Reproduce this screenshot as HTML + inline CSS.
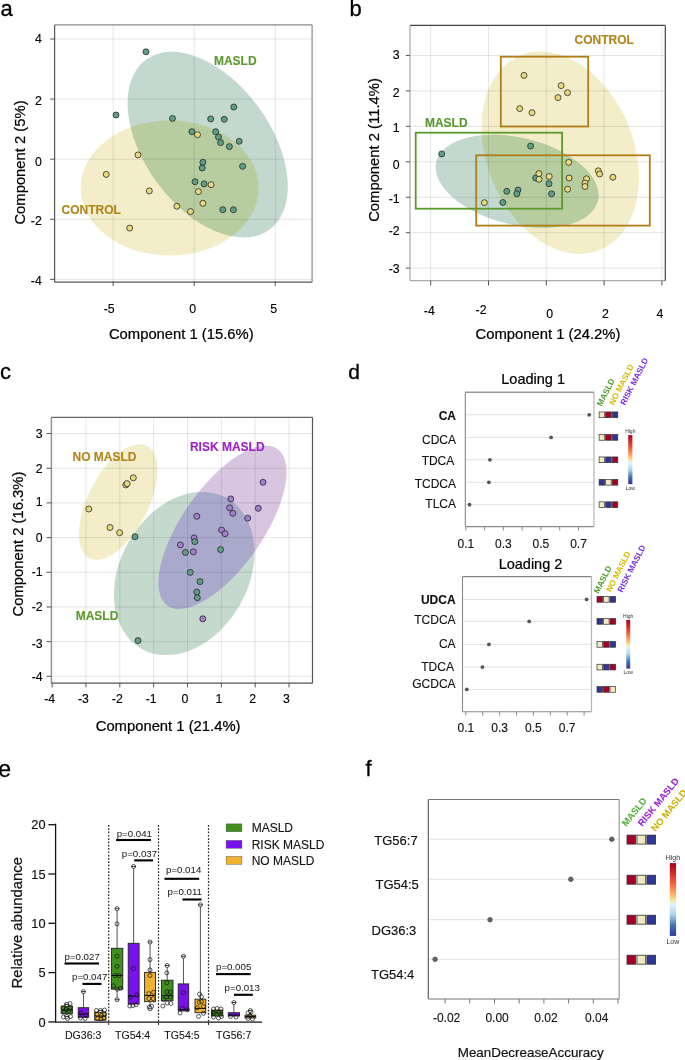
<!DOCTYPE html>
<html><head><meta charset="utf-8"><style>
html,body{margin:0;padding:0;background:#fff;width:685px;height:1060px;overflow:hidden}
svg{display:block;font-family:"Liberation Sans", sans-serif}
</style></head><body>
<svg width="685" height="1060" viewBox="0 0 685 1060">
<rect x="0" y="0" width="685" height="1060" fill="#fff"/>
<text x="0.50" y="16.00" font-size="22" text-anchor="start" font-weight="normal" fill="#000" stroke="#000" stroke-width="0.30">a</text>
<clipPath id="clip1"><ellipse cx="169.70" cy="188.00" rx="89.00" ry="67.60" transform="rotate(0 169.70 188.00)" fill="#000"/></clipPath>
<ellipse cx="169.70" cy="188.00" rx="89.00" ry="67.60" transform="rotate(0 169.70 188.00)" fill="#f3eec9"/>
<ellipse cx="207.70" cy="144.65" rx="105.10" ry="63.20" transform="rotate(54.1 207.70 144.65)" fill="#c3d9cf"/>
<g clip-path="url(#clip1)"><ellipse cx="207.70" cy="144.65" rx="105.10" ry="63.20" transform="rotate(54.1 207.70 144.65)" fill="#b7cd9f"/></g>
<line x1="113.15" y1="25.00" x2="113.15" y2="281.30" stroke="#e6e6e6" stroke-width="1" style="mix-blend-mode:multiply"/>
<line x1="194.20" y1="25.00" x2="194.20" y2="281.30" stroke="#e6e6e6" stroke-width="1" style="mix-blend-mode:multiply"/>
<line x1="275.25" y1="25.00" x2="275.25" y2="281.30" stroke="#e6e6e6" stroke-width="1" style="mix-blend-mode:multiply"/>
<line x1="54.70" y1="279.40" x2="312.20" y2="279.40" stroke="#e6e6e6" stroke-width="1" style="mix-blend-mode:multiply"/>
<line x1="54.70" y1="219.30" x2="312.20" y2="219.30" stroke="#e6e6e6" stroke-width="1" style="mix-blend-mode:multiply"/>
<line x1="54.70" y1="159.20" x2="312.20" y2="159.20" stroke="#e6e6e6" stroke-width="1" style="mix-blend-mode:multiply"/>
<line x1="54.70" y1="99.10" x2="312.20" y2="99.10" stroke="#e6e6e6" stroke-width="1" style="mix-blend-mode:multiply"/>
<line x1="54.70" y1="39.00" x2="312.20" y2="39.00" stroke="#e6e6e6" stroke-width="1" style="mix-blend-mode:multiply"/>
<line x1="54.60" y1="24.90" x2="312.10" y2="24.90" stroke="#8a8a8a" stroke-width="1.2"/>
<line x1="54.60" y1="24.90" x2="54.60" y2="282.20" stroke="#555" stroke-width="1.2"/>
<line x1="54.60" y1="282.20" x2="312.10" y2="282.20" stroke="#555" stroke-width="1.2"/>
<line x1="312.10" y1="24.90" x2="312.10" y2="282.20" stroke="#8a8a8a" stroke-width="1.2"/>
<line x1="50.20" y1="279.40" x2="54.70" y2="279.40" stroke="#555" stroke-width="1"/>
<text x="41.80" y="284.90" font-size="12.3" text-anchor="end" font-weight="normal" fill="#000" stroke="#000" stroke-width="0.13">-4</text>
<line x1="50.20" y1="219.30" x2="54.70" y2="219.30" stroke="#555" stroke-width="1"/>
<text x="41.80" y="224.70" font-size="12.3" text-anchor="end" font-weight="normal" fill="#000" stroke="#000" stroke-width="0.13">-2</text>
<line x1="50.20" y1="159.20" x2="54.70" y2="159.20" stroke="#555" stroke-width="1"/>
<text x="41.80" y="165.80" font-size="12.3" text-anchor="end" font-weight="normal" fill="#000" stroke="#000" stroke-width="0.13">0</text>
<line x1="50.20" y1="99.10" x2="54.70" y2="99.10" stroke="#555" stroke-width="1"/>
<text x="41.80" y="104.70" font-size="12.3" text-anchor="end" font-weight="normal" fill="#000" stroke="#000" stroke-width="0.13">2</text>
<line x1="50.20" y1="39.00" x2="54.70" y2="39.00" stroke="#555" stroke-width="1"/>
<text x="41.80" y="43.15" font-size="12.3" text-anchor="end" font-weight="normal" fill="#000" stroke="#000" stroke-width="0.13">4</text>
<line x1="113.15" y1="281.30" x2="113.15" y2="286.00" stroke="#555" stroke-width="1"/>
<text x="109.15" y="313.40" font-size="12.3" text-anchor="middle" font-weight="normal" fill="#000" stroke="#000" stroke-width="0.13">-5</text>
<line x1="194.20" y1="281.30" x2="194.20" y2="286.00" stroke="#555" stroke-width="1"/>
<text x="192.70" y="313.40" font-size="12.3" text-anchor="middle" font-weight="normal" fill="#000" stroke="#000" stroke-width="0.13">0</text>
<line x1="275.25" y1="281.30" x2="275.25" y2="286.00" stroke="#555" stroke-width="1"/>
<text x="273.75" y="313.40" font-size="12.3" text-anchor="middle" font-weight="normal" fill="#000" stroke="#000" stroke-width="0.13">5</text>
<text x="181.30" y="339.00" font-size="14.8" text-anchor="middle" font-weight="normal" fill="#000" stroke="#000" stroke-width="0.23">Component 1 (15.6%)</text>
<text x="25.40" y="162.50" font-size="14.8" text-anchor="middle" font-weight="normal" fill="#000" stroke="#000" stroke-width="0.23" transform="rotate(-90 25.4 162.5)">Component 2 (5%)</text>
<text x="213.90" y="65.10" font-size="12" text-anchor="start" font-weight="bold" fill="#5a9a2e" stroke="#5a9a2e" stroke-width="0.12">MASLD</text>
<text x="61.50" y="214.00" font-size="12" text-anchor="start" font-weight="bold" fill="#b0851c" stroke="#b0851c" stroke-width="0.12">CONTROL</text>
<circle cx="146.00" cy="51.80" r="3.0" fill="#5e9e84" stroke="#2a2a2a" stroke-width="0.8"/>
<circle cx="116.00" cy="115.00" r="3.0" fill="#5e9e84" stroke="#2a2a2a" stroke-width="0.8"/>
<circle cx="172.50" cy="118.40" r="3.0" fill="#5e9e84" stroke="#2a2a2a" stroke-width="0.8"/>
<circle cx="233.80" cy="107.00" r="3.0" fill="#5e9e84" stroke="#2a2a2a" stroke-width="0.8"/>
<circle cx="210.70" cy="118.90" r="3.0" fill="#5e9e84" stroke="#2a2a2a" stroke-width="0.8"/>
<circle cx="224.30" cy="119.30" r="3.0" fill="#5e9e84" stroke="#2a2a2a" stroke-width="0.8"/>
<circle cx="191.90" cy="131.70" r="3.0" fill="#5e9e84" stroke="#2a2a2a" stroke-width="0.8"/>
<circle cx="197.50" cy="134.70" r="3.0" fill="#e8d97c" stroke="#2a2a2a" stroke-width="0.8"/>
<circle cx="215.70" cy="131.70" r="3.0" fill="#5e9e84" stroke="#2a2a2a" stroke-width="0.8"/>
<circle cx="218.50" cy="137.00" r="3.0" fill="#5e9e84" stroke="#2a2a2a" stroke-width="0.8"/>
<circle cx="220.60" cy="142.60" r="3.0" fill="#5e9e84" stroke="#2a2a2a" stroke-width="0.8"/>
<circle cx="229.40" cy="146.60" r="3.0" fill="#5e9e84" stroke="#2a2a2a" stroke-width="0.8"/>
<circle cx="239.20" cy="141.30" r="3.0" fill="#5e9e84" stroke="#2a2a2a" stroke-width="0.8"/>
<circle cx="138.00" cy="154.90" r="3.0" fill="#e8d97c" stroke="#2a2a2a" stroke-width="0.8"/>
<circle cx="106.20" cy="174.40" r="3.0" fill="#e8d97c" stroke="#2a2a2a" stroke-width="0.8"/>
<circle cx="149.30" cy="190.90" r="3.0" fill="#e8d97c" stroke="#2a2a2a" stroke-width="0.8"/>
<circle cx="176.80" cy="206.30" r="3.0" fill="#e8d97c" stroke="#2a2a2a" stroke-width="0.8"/>
<circle cx="190.50" cy="211.50" r="3.0" fill="#e8d97c" stroke="#2a2a2a" stroke-width="0.8"/>
<circle cx="129.70" cy="228.10" r="3.0" fill="#e8d97c" stroke="#2a2a2a" stroke-width="0.8"/>
<circle cx="202.90" cy="162.30" r="3.0" fill="#5e9e84" stroke="#2a2a2a" stroke-width="0.8"/>
<circle cx="202.20" cy="168.00" r="3.0" fill="#5e9e84" stroke="#2a2a2a" stroke-width="0.8"/>
<circle cx="242.60" cy="166.30" r="3.0" fill="#5e9e84" stroke="#2a2a2a" stroke-width="0.8"/>
<circle cx="195.00" cy="181.70" r="3.0" fill="#5e9e84" stroke="#2a2a2a" stroke-width="0.8"/>
<circle cx="204.10" cy="183.90" r="3.0" fill="#5e9e84" stroke="#2a2a2a" stroke-width="0.8"/>
<circle cx="211.10" cy="184.70" r="3.0" fill="#e8d97c" stroke="#2a2a2a" stroke-width="0.8"/>
<circle cx="198.40" cy="191.60" r="3.0" fill="#e8d97c" stroke="#2a2a2a" stroke-width="0.8"/>
<circle cx="202.90" cy="203.30" r="3.0" fill="#e8d97c" stroke="#2a2a2a" stroke-width="0.8"/>
<circle cx="222.80" cy="209.70" r="3.0" fill="#5e9e84" stroke="#2a2a2a" stroke-width="0.8"/>
<circle cx="233.40" cy="209.70" r="3.0" fill="#5e9e84" stroke="#2a2a2a" stroke-width="0.8"/>
<text x="349.50" y="16.00" font-size="22" text-anchor="start" font-weight="normal" fill="#000" stroke="#000" stroke-width="0.30">b</text>
<clipPath id="clip2"><ellipse cx="560.30" cy="152.70" rx="105.10" ry="73.40" transform="rotate(67.9 560.30 152.70)" fill="#000"/></clipPath>
<ellipse cx="560.30" cy="152.70" rx="105.10" ry="73.40" transform="rotate(67.9 560.30 152.70)" fill="#f3eec9"/>
<ellipse cx="517.10" cy="181.30" rx="83.10" ry="43.50" transform="rotate(13.5 517.10 181.30)" fill="#c3d9cf"/>
<g clip-path="url(#clip2)"><ellipse cx="517.10" cy="181.30" rx="83.10" ry="43.50" transform="rotate(13.5 517.10 181.30)" fill="#b7cd9f"/></g>
<line x1="430.70" y1="25.00" x2="430.70" y2="280.50" stroke="#e6e6e6" stroke-width="1" style="mix-blend-mode:multiply"/>
<line x1="488.50" y1="25.00" x2="488.50" y2="280.50" stroke="#e6e6e6" stroke-width="1" style="mix-blend-mode:multiply"/>
<line x1="546.30" y1="25.00" x2="546.30" y2="280.50" stroke="#e6e6e6" stroke-width="1" style="mix-blend-mode:multiply"/>
<line x1="604.10" y1="25.00" x2="604.10" y2="280.50" stroke="#e6e6e6" stroke-width="1" style="mix-blend-mode:multiply"/>
<line x1="661.90" y1="25.00" x2="661.90" y2="280.50" stroke="#e6e6e6" stroke-width="1" style="mix-blend-mode:multiply"/>
<line x1="410.00" y1="268.15" x2="665.00" y2="268.15" stroke="#e6e6e6" stroke-width="1" style="mix-blend-mode:multiply"/>
<line x1="410.00" y1="232.70" x2="665.00" y2="232.70" stroke="#e6e6e6" stroke-width="1" style="mix-blend-mode:multiply"/>
<line x1="410.00" y1="197.25" x2="665.00" y2="197.25" stroke="#e6e6e6" stroke-width="1" style="mix-blend-mode:multiply"/>
<line x1="410.00" y1="161.80" x2="665.00" y2="161.80" stroke="#e6e6e6" stroke-width="1" style="mix-blend-mode:multiply"/>
<line x1="410.00" y1="126.35" x2="665.00" y2="126.35" stroke="#e6e6e6" stroke-width="1" style="mix-blend-mode:multiply"/>
<line x1="410.00" y1="90.90" x2="665.00" y2="90.90" stroke="#e6e6e6" stroke-width="1" style="mix-blend-mode:multiply"/>
<line x1="410.00" y1="55.45" x2="665.00" y2="55.45" stroke="#e6e6e6" stroke-width="1" style="mix-blend-mode:multiply"/>
<line x1="410.00" y1="25.40" x2="665.30" y2="25.40" stroke="#444" stroke-width="1.2"/>
<line x1="410.00" y1="25.40" x2="410.00" y2="280.70" stroke="#aaa" stroke-width="1.2"/>
<line x1="410.00" y1="280.70" x2="665.30" y2="280.70" stroke="#aaa" stroke-width="1.2"/>
<line x1="665.30" y1="25.40" x2="665.30" y2="280.70" stroke="#444" stroke-width="1.2"/>
<line x1="405.80" y1="268.15" x2="410.00" y2="268.15" stroke="#555" stroke-width="1"/>
<text x="399.70" y="272.75" font-size="12.3" text-anchor="end" font-weight="normal" fill="#000" stroke="#000" stroke-width="0.13">-3</text>
<line x1="405.80" y1="232.70" x2="410.00" y2="232.70" stroke="#555" stroke-width="1"/>
<text x="399.70" y="234.70" font-size="12.3" text-anchor="end" font-weight="normal" fill="#000" stroke="#000" stroke-width="0.13">-2</text>
<line x1="405.80" y1="197.25" x2="410.00" y2="197.25" stroke="#555" stroke-width="1"/>
<text x="399.70" y="202.55" font-size="12.3" text-anchor="end" font-weight="normal" fill="#000" stroke="#000" stroke-width="0.13">-1</text>
<line x1="405.80" y1="161.80" x2="410.00" y2="161.80" stroke="#555" stroke-width="1"/>
<text x="399.70" y="169.00" font-size="12.3" text-anchor="end" font-weight="normal" fill="#000" stroke="#000" stroke-width="0.13">0</text>
<line x1="405.80" y1="126.35" x2="410.00" y2="126.35" stroke="#555" stroke-width="1"/>
<text x="399.70" y="132.15" font-size="12.3" text-anchor="end" font-weight="normal" fill="#000" stroke="#000" stroke-width="0.13">1</text>
<line x1="405.80" y1="90.90" x2="410.00" y2="90.90" stroke="#555" stroke-width="1"/>
<text x="399.70" y="96.70" font-size="12.3" text-anchor="end" font-weight="normal" fill="#000" stroke="#000" stroke-width="0.13">2</text>
<line x1="405.80" y1="55.45" x2="410.00" y2="55.45" stroke="#555" stroke-width="1"/>
<text x="399.70" y="59.30" font-size="12.3" text-anchor="end" font-weight="normal" fill="#000" stroke="#000" stroke-width="0.13">3</text>
<line x1="430.70" y1="280.50" x2="430.70" y2="285.50" stroke="#555" stroke-width="1"/>
<line x1="488.50" y1="280.50" x2="488.50" y2="285.50" stroke="#555" stroke-width="1"/>
<line x1="546.30" y1="280.50" x2="546.30" y2="285.50" stroke="#555" stroke-width="1"/>
<line x1="604.10" y1="280.50" x2="604.10" y2="285.50" stroke="#555" stroke-width="1"/>
<line x1="661.90" y1="280.50" x2="661.90" y2="285.50" stroke="#555" stroke-width="1"/>
<text x="429.30" y="314.50" font-size="12.3" text-anchor="middle" font-weight="normal" fill="#000" stroke="#000" stroke-width="0.13">-4</text>
<text x="481.00" y="314.30" font-size="12.3" text-anchor="middle" font-weight="normal" fill="#000" stroke="#000" stroke-width="0.13">-2</text>
<text x="549.60" y="317.80" font-size="12.3" text-anchor="middle" font-weight="normal" fill="#000" stroke="#000" stroke-width="0.13">0</text>
<text x="605.30" y="317.80" font-size="12.3" text-anchor="middle" font-weight="normal" fill="#000" stroke="#000" stroke-width="0.13">2</text>
<text x="660.00" y="317.80" font-size="12.3" text-anchor="middle" font-weight="normal" fill="#000" stroke="#000" stroke-width="0.13">4</text>
<text x="548.00" y="338.70" font-size="14.8" text-anchor="middle" font-weight="normal" fill="#000" stroke="#000" stroke-width="0.23">Component 1 (24.2%)</text>
<text x="379.00" y="150.00" font-size="14.8" text-anchor="middle" font-weight="normal" fill="#000" stroke="#000" stroke-width="0.23" transform="rotate(-90 379 150)">Component 2 (11.4%)</text>
<rect x="415.70" y="132.70" width="146.40" height="76.00" fill="none" stroke="#5a9a2e" stroke-width="1.8"/>
<rect x="476.20" y="155.30" width="173.60" height="70.30" fill="none" stroke="#b07d1a" stroke-width="1.8"/>
<rect x="500.80" y="56.70" width="87.40" height="69.80" fill="none" stroke="#b07d1a" stroke-width="1.8"/>
<text x="424.90" y="127.10" font-size="12" text-anchor="start" font-weight="bold" fill="#5a9a2e" stroke="#5a9a2e" stroke-width="0.12">MASLD</text>
<text x="574.60" y="44.40" font-size="12" text-anchor="start" font-weight="bold" fill="#b0851c" stroke="#b0851c" stroke-width="0.12">CONTROL</text>
<circle cx="441.70" cy="153.90" r="3.0" fill="#5e9e84" stroke="#2a2a2a" stroke-width="0.8"/>
<circle cx="530.60" cy="146.10" r="3.0" fill="#5e9e84" stroke="#2a2a2a" stroke-width="0.8"/>
<circle cx="506.80" cy="191.30" r="3.0" fill="#5e9e84" stroke="#2a2a2a" stroke-width="0.8"/>
<circle cx="518.00" cy="190.00" r="3.0" fill="#5e9e84" stroke="#2a2a2a" stroke-width="0.8"/>
<circle cx="516.80" cy="193.80" r="3.0" fill="#5e9e84" stroke="#2a2a2a" stroke-width="0.8"/>
<circle cx="484.40" cy="202.70" r="3.0" fill="#e8d97c" stroke="#2a2a2a" stroke-width="0.8"/>
<circle cx="502.80" cy="202.50" r="3.0" fill="#5e9e84" stroke="#2a2a2a" stroke-width="0.8"/>
<circle cx="535.70" cy="178.00" r="3.0" fill="#5e9e84" stroke="#2a2a2a" stroke-width="0.8"/>
<circle cx="538.90" cy="173.60" r="3.0" fill="#e8d97c" stroke="#2a2a2a" stroke-width="0.8"/>
<circle cx="539.10" cy="179.30" r="3.0" fill="#e8d97c" stroke="#2a2a2a" stroke-width="0.8"/>
<circle cx="549.20" cy="176.50" r="3.0" fill="#e8d97c" stroke="#2a2a2a" stroke-width="0.8"/>
<circle cx="549.00" cy="183.70" r="3.0" fill="#5e9e84" stroke="#2a2a2a" stroke-width="0.8"/>
<circle cx="551.60" cy="193.80" r="3.0" fill="#5e9e84" stroke="#2a2a2a" stroke-width="0.8"/>
<circle cx="568.70" cy="162.40" r="3.0" fill="#e8d97c" stroke="#2a2a2a" stroke-width="0.8"/>
<circle cx="569.10" cy="178.00" r="3.0" fill="#e8d97c" stroke="#2a2a2a" stroke-width="0.8"/>
<circle cx="567.60" cy="189.20" r="3.0" fill="#e8d97c" stroke="#2a2a2a" stroke-width="0.8"/>
<circle cx="586.50" cy="178.80" r="3.0" fill="#e8d97c" stroke="#2a2a2a" stroke-width="0.8"/>
<circle cx="585.00" cy="183.10" r="3.0" fill="#e8d97c" stroke="#2a2a2a" stroke-width="0.8"/>
<circle cx="585.00" cy="186.50" r="3.0" fill="#e8d97c" stroke="#2a2a2a" stroke-width="0.8"/>
<circle cx="598.30" cy="170.80" r="3.0" fill="#e8d97c" stroke="#2a2a2a" stroke-width="0.8"/>
<circle cx="599.60" cy="174.00" r="3.0" fill="#e8d97c" stroke="#2a2a2a" stroke-width="0.8"/>
<circle cx="612.90" cy="177.20" r="3.0" fill="#e8d97c" stroke="#2a2a2a" stroke-width="0.8"/>
<circle cx="524.00" cy="75.40" r="3.0" fill="#e8d97c" stroke="#2a2a2a" stroke-width="0.8"/>
<circle cx="561.10" cy="85.60" r="3.0" fill="#e8d97c" stroke="#2a2a2a" stroke-width="0.8"/>
<circle cx="567.50" cy="92.70" r="3.0" fill="#e8d97c" stroke="#2a2a2a" stroke-width="0.8"/>
<circle cx="558.00" cy="97.60" r="3.0" fill="#e8d97c" stroke="#2a2a2a" stroke-width="0.8"/>
<circle cx="519.70" cy="108.60" r="3.0" fill="#e8d97c" stroke="#2a2a2a" stroke-width="0.8"/>
<circle cx="532.00" cy="112.70" r="3.0" fill="#e8d97c" stroke="#2a2a2a" stroke-width="0.8"/>
<text x="0.00" y="378.50" font-size="22" text-anchor="start" font-weight="normal" fill="#000" stroke="#000" stroke-width="0.30">c</text>
<ellipse cx="118.20" cy="502.00" rx="63.10" ry="30.10" transform="rotate(-62.9 118.20 502.00)" fill="#f3eec9"/>
<clipPath id="clip3"><ellipse cx="184.20" cy="573.50" rx="86.60" ry="64.00" transform="rotate(-60.2 184.20 573.50)" fill="#000"/></clipPath>
<ellipse cx="184.20" cy="573.50" rx="86.60" ry="64.00" transform="rotate(-60.2 184.20 573.50)" fill="#c5dacd"/>
<ellipse cx="222.50" cy="527.30" rx="95.70" ry="40.30" transform="rotate(-55 222.50 527.30)" fill="#d8c6e0"/>
<g clip-path="url(#clip3)"><ellipse cx="222.50" cy="527.30" rx="95.70" ry="40.30" transform="rotate(-55 222.50 527.30)" fill="#a9a9cc"/></g>
<line x1="52.14" y1="417.00" x2="52.14" y2="682.80" stroke="#e6e6e6" stroke-width="1" style="mix-blend-mode:multiply"/>
<line x1="85.98" y1="417.00" x2="85.98" y2="682.80" stroke="#e6e6e6" stroke-width="1" style="mix-blend-mode:multiply"/>
<line x1="119.82" y1="417.00" x2="119.82" y2="682.80" stroke="#e6e6e6" stroke-width="1" style="mix-blend-mode:multiply"/>
<line x1="153.66" y1="417.00" x2="153.66" y2="682.80" stroke="#e6e6e6" stroke-width="1" style="mix-blend-mode:multiply"/>
<line x1="187.50" y1="417.00" x2="187.50" y2="682.80" stroke="#e6e6e6" stroke-width="1" style="mix-blend-mode:multiply"/>
<line x1="221.34" y1="417.00" x2="221.34" y2="682.80" stroke="#e6e6e6" stroke-width="1" style="mix-blend-mode:multiply"/>
<line x1="255.18" y1="417.00" x2="255.18" y2="682.80" stroke="#e6e6e6" stroke-width="1" style="mix-blend-mode:multiply"/>
<line x1="289.02" y1="417.00" x2="289.02" y2="682.80" stroke="#e6e6e6" stroke-width="1" style="mix-blend-mode:multiply"/>
<line x1="51.40" y1="676.32" x2="312.50" y2="676.32" stroke="#e6e6e6" stroke-width="1" style="mix-blend-mode:multiply"/>
<line x1="51.40" y1="641.64" x2="312.50" y2="641.64" stroke="#e6e6e6" stroke-width="1" style="mix-blend-mode:multiply"/>
<line x1="51.40" y1="606.96" x2="312.50" y2="606.96" stroke="#e6e6e6" stroke-width="1" style="mix-blend-mode:multiply"/>
<line x1="51.40" y1="572.28" x2="312.50" y2="572.28" stroke="#e6e6e6" stroke-width="1" style="mix-blend-mode:multiply"/>
<line x1="51.40" y1="537.60" x2="312.50" y2="537.60" stroke="#e6e6e6" stroke-width="1" style="mix-blend-mode:multiply"/>
<line x1="51.40" y1="502.92" x2="312.50" y2="502.92" stroke="#e6e6e6" stroke-width="1" style="mix-blend-mode:multiply"/>
<line x1="51.40" y1="468.24" x2="312.50" y2="468.24" stroke="#e6e6e6" stroke-width="1" style="mix-blend-mode:multiply"/>
<line x1="51.40" y1="433.56" x2="312.50" y2="433.56" stroke="#e6e6e6" stroke-width="1" style="mix-blend-mode:multiply"/>
<line x1="51.30" y1="417.40" x2="312.50" y2="417.40" stroke="#666" stroke-width="1.2"/>
<line x1="51.30" y1="417.40" x2="51.30" y2="683.20" stroke="#888" stroke-width="1.2"/>
<line x1="51.30" y1="683.20" x2="312.50" y2="683.20" stroke="#555" stroke-width="1.2"/>
<line x1="312.50" y1="417.40" x2="312.50" y2="683.20" stroke="#555" stroke-width="1.2"/>
<line x1="46.50" y1="676.32" x2="51.40" y2="676.32" stroke="#555" stroke-width="1"/>
<text x="42.60" y="680.92" font-size="12.3" text-anchor="end" font-weight="normal" fill="#000" stroke="#000" stroke-width="0.13">-4</text>
<line x1="46.50" y1="641.64" x2="51.40" y2="641.64" stroke="#555" stroke-width="1"/>
<text x="42.60" y="647.54" font-size="12.3" text-anchor="end" font-weight="normal" fill="#000" stroke="#000" stroke-width="0.13">-3</text>
<line x1="46.50" y1="606.96" x2="51.40" y2="606.96" stroke="#555" stroke-width="1"/>
<text x="42.60" y="610.76" font-size="12.3" text-anchor="end" font-weight="normal" fill="#000" stroke="#000" stroke-width="0.13">-2</text>
<line x1="46.50" y1="572.28" x2="51.40" y2="572.28" stroke="#555" stroke-width="1"/>
<text x="42.60" y="576.08" font-size="12.3" text-anchor="end" font-weight="normal" fill="#000" stroke="#000" stroke-width="0.13">-1</text>
<line x1="46.50" y1="537.60" x2="51.40" y2="537.60" stroke="#555" stroke-width="1"/>
<text x="42.60" y="542.20" font-size="12.3" text-anchor="end" font-weight="normal" fill="#000" stroke="#000" stroke-width="0.13">0</text>
<line x1="46.50" y1="502.92" x2="51.40" y2="502.92" stroke="#555" stroke-width="1"/>
<text x="42.60" y="506.02" font-size="12.3" text-anchor="end" font-weight="normal" fill="#000" stroke="#000" stroke-width="0.13">1</text>
<line x1="46.50" y1="468.24" x2="51.40" y2="468.24" stroke="#555" stroke-width="1"/>
<text x="42.60" y="472.84" font-size="12.3" text-anchor="end" font-weight="normal" fill="#000" stroke="#000" stroke-width="0.13">2</text>
<line x1="46.50" y1="433.56" x2="51.40" y2="433.56" stroke="#555" stroke-width="1"/>
<text x="42.60" y="438.16" font-size="12.3" text-anchor="end" font-weight="normal" fill="#000" stroke="#000" stroke-width="0.13">3</text>
<line x1="52.14" y1="682.80" x2="52.14" y2="687.40" stroke="#555" stroke-width="1"/>
<text x="49.64" y="703.40" font-size="12.3" text-anchor="middle" font-weight="normal" fill="#000" stroke="#000" stroke-width="0.13">-4</text>
<line x1="85.98" y1="682.80" x2="85.98" y2="687.40" stroke="#555" stroke-width="1"/>
<text x="83.48" y="703.40" font-size="12.3" text-anchor="middle" font-weight="normal" fill="#000" stroke="#000" stroke-width="0.13">-3</text>
<line x1="119.82" y1="682.80" x2="119.82" y2="687.40" stroke="#555" stroke-width="1"/>
<text x="117.32" y="703.40" font-size="12.3" text-anchor="middle" font-weight="normal" fill="#000" stroke="#000" stroke-width="0.13">-2</text>
<line x1="153.66" y1="682.80" x2="153.66" y2="687.40" stroke="#555" stroke-width="1"/>
<text x="151.16" y="703.40" font-size="12.3" text-anchor="middle" font-weight="normal" fill="#000" stroke="#000" stroke-width="0.13">-1</text>
<line x1="187.50" y1="682.80" x2="187.50" y2="687.40" stroke="#555" stroke-width="1"/>
<text x="185.00" y="703.40" font-size="12.3" text-anchor="middle" font-weight="normal" fill="#000" stroke="#000" stroke-width="0.13">0</text>
<line x1="221.34" y1="682.80" x2="221.34" y2="687.40" stroke="#555" stroke-width="1"/>
<text x="218.84" y="703.40" font-size="12.3" text-anchor="middle" font-weight="normal" fill="#000" stroke="#000" stroke-width="0.13">1</text>
<line x1="255.18" y1="682.80" x2="255.18" y2="687.40" stroke="#555" stroke-width="1"/>
<text x="252.68" y="703.40" font-size="12.3" text-anchor="middle" font-weight="normal" fill="#000" stroke="#000" stroke-width="0.13">2</text>
<line x1="289.02" y1="682.80" x2="289.02" y2="687.40" stroke="#555" stroke-width="1"/>
<text x="286.52" y="703.40" font-size="12.3" text-anchor="middle" font-weight="normal" fill="#000" stroke="#000" stroke-width="0.13">3</text>
<text x="168.10" y="731.00" font-size="14.8" text-anchor="middle" font-weight="normal" fill="#000" stroke="#000" stroke-width="0.23">Component 1 (21.4%)</text>
<text x="23.00" y="544.00" font-size="14.8" text-anchor="middle" font-weight="normal" fill="#000" stroke="#000" stroke-width="0.23" transform="rotate(-90 23 544)">Component 2 (16.3%)</text>
<text x="72.50" y="461.00" font-size="12" text-anchor="start" font-weight="bold" fill="#b0851c" stroke="#b0851c" stroke-width="0.12">NO MASLD</text>
<text x="189.90" y="450.60" font-size="12" text-anchor="start" font-weight="bold" fill="#9a22c8" stroke="#9a22c8" stroke-width="0.12">RISK MASLD</text>
<text x="75.70" y="619.90" font-size="12" text-anchor="start" font-weight="bold" fill="#5a9a2e" stroke="#5a9a2e" stroke-width="0.12">MASLD</text>
<circle cx="88.80" cy="509.00" r="3.0" fill="#e8d97c" stroke="#2a2a2a" stroke-width="0.8"/>
<circle cx="125.80" cy="484.90" r="3.0" fill="#e8d97c" stroke="#2a2a2a" stroke-width="0.8"/>
<circle cx="127.10" cy="483.60" r="3.0" fill="#e8d97c" stroke="#2a2a2a" stroke-width="0.8"/>
<circle cx="133.30" cy="477.80" r="3.0" fill="#e8d97c" stroke="#2a2a2a" stroke-width="0.8"/>
<circle cx="110.00" cy="527.50" r="3.0" fill="#e8d97c" stroke="#2a2a2a" stroke-width="0.8"/>
<circle cx="119.60" cy="532.70" r="3.0" fill="#e8d97c" stroke="#2a2a2a" stroke-width="0.8"/>
<circle cx="135.00" cy="536.70" r="3.0" fill="#5e9e84" stroke="#2a2a2a" stroke-width="0.8"/>
<circle cx="138.00" cy="640.60" r="3.0" fill="#5e9e84" stroke="#2a2a2a" stroke-width="0.8"/>
<circle cx="263.00" cy="482.30" r="3.0" fill="#a27fd0" stroke="#2a2a2a" stroke-width="0.8"/>
<circle cx="230.80" cy="498.90" r="3.0" fill="#a27fd0" stroke="#2a2a2a" stroke-width="0.8"/>
<circle cx="229.60" cy="507.80" r="3.0" fill="#a27fd0" stroke="#2a2a2a" stroke-width="0.8"/>
<circle cx="232.80" cy="513.30" r="3.0" fill="#a27fd0" stroke="#2a2a2a" stroke-width="0.8"/>
<circle cx="258.30" cy="508.30" r="3.0" fill="#a27fd0" stroke="#2a2a2a" stroke-width="0.8"/>
<circle cx="196.80" cy="516.30" r="3.0" fill="#a27fd0" stroke="#2a2a2a" stroke-width="0.8"/>
<circle cx="247.70" cy="518.20" r="3.0" fill="#a27fd0" stroke="#2a2a2a" stroke-width="0.8"/>
<circle cx="221.60" cy="530.00" r="3.0" fill="#a27fd0" stroke="#2a2a2a" stroke-width="0.8"/>
<circle cx="225.10" cy="533.70" r="3.0" fill="#a27fd0" stroke="#2a2a2a" stroke-width="0.8"/>
<circle cx="194.10" cy="537.90" r="3.0" fill="#a27fd0" stroke="#2a2a2a" stroke-width="0.8"/>
<circle cx="194.80" cy="541.60" r="3.0" fill="#5e9e84" stroke="#2a2a2a" stroke-width="0.8"/>
<circle cx="180.40" cy="544.90" r="3.0" fill="#a27fd0" stroke="#2a2a2a" stroke-width="0.8"/>
<circle cx="185.40" cy="552.50" r="3.0" fill="#5e9e84" stroke="#2a2a2a" stroke-width="0.8"/>
<circle cx="193.30" cy="551.80" r="3.0" fill="#a27fd0" stroke="#2a2a2a" stroke-width="0.8"/>
<circle cx="220.60" cy="549.60" r="3.0" fill="#5e9e84" stroke="#2a2a2a" stroke-width="0.8"/>
<circle cx="190.30" cy="572.40" r="3.0" fill="#5e9e84" stroke="#2a2a2a" stroke-width="0.8"/>
<circle cx="200.00" cy="581.60" r="3.0" fill="#5e9e84" stroke="#2a2a2a" stroke-width="0.8"/>
<circle cx="196.80" cy="592.00" r="3.0" fill="#5e9e84" stroke="#2a2a2a" stroke-width="0.8"/>
<circle cx="197.30" cy="597.70" r="3.0" fill="#5e9e84" stroke="#2a2a2a" stroke-width="0.8"/>
<circle cx="202.80" cy="618.80" r="3.0" fill="#a27fd0" stroke="#2a2a2a" stroke-width="0.8"/>
<text x="348.20" y="378.50" font-size="21" text-anchor="start" font-weight="normal" fill="#000" stroke="#000" stroke-width="0.30">d</text>
<defs><linearGradient id="rdylbu" x1="0" y1="0" x2="0" y2="1"><stop offset="0" stop-color="#a50026"/><stop offset="0.15" stop-color="#d73027"/><stop offset="0.3" stop-color="#f46d43"/><stop offset="0.42" stop-color="#fdae61"/><stop offset="0.5" stop-color="#fee090"/><stop offset="0.56" stop-color="#e0f3f8"/><stop offset="0.7" stop-color="#abd9e9"/><stop offset="0.85" stop-color="#4575b4"/><stop offset="1" stop-color="#313695"/></linearGradient></defs>
<text x="533.15" y="384.30" font-size="14.5" text-anchor="middle" font-weight="normal" fill="#000" stroke="#000" stroke-width="0.22">Loading 1</text>
<line x1="465.30" y1="414.80" x2="594.00" y2="414.80" stroke="#e2e2e2" stroke-width="1"/>
<line x1="465.30" y1="437.40" x2="594.00" y2="437.40" stroke="#e2e2e2" stroke-width="1"/>
<line x1="465.30" y1="459.80" x2="594.00" y2="459.80" stroke="#e2e2e2" stroke-width="1"/>
<line x1="465.30" y1="482.30" x2="594.00" y2="482.30" stroke="#e2e2e2" stroke-width="1"/>
<line x1="465.30" y1="504.70" x2="594.00" y2="504.70" stroke="#e2e2e2" stroke-width="1"/>
<line x1="465.30" y1="392.20" x2="594.00" y2="392.20" stroke="#666" stroke-width="1"/>
<line x1="465.30" y1="392.20" x2="465.30" y2="526.60" stroke="#8a8a8a" stroke-width="1.1"/>
<line x1="465.30" y1="526.60" x2="594.00" y2="526.60" stroke="#8a8a8a" stroke-width="1.1"/>
<line x1="594.00" y1="392.20" x2="594.00" y2="526.60" stroke="#b5b5b5" stroke-width="1.2"/>
<text x="456.00" y="420.20" font-size="12" text-anchor="end" font-weight="bold" fill="#111" stroke="#111" stroke-width="0.12">CA</text>
<text x="456.00" y="444.20" font-size="12" text-anchor="end" font-weight="normal" fill="#111" stroke="#111" stroke-width="0.12">CDCA</text>
<text x="454.30" y="464.80" font-size="12" text-anchor="end" font-weight="normal" fill="#111" stroke="#111" stroke-width="0.12">TDCA</text>
<text x="456.00" y="487.70" font-size="12" text-anchor="end" font-weight="normal" fill="#111" stroke="#111" stroke-width="0.12">TCDCA</text>
<text x="456.00" y="508.30" font-size="12" text-anchor="end" font-weight="normal" fill="#111" stroke="#111" stroke-width="0.12">TLCA</text>
<circle cx="589.20" cy="414.80" r="1.9" fill="#555"/>
<circle cx="551.10" cy="437.40" r="1.9" fill="#555"/>
<circle cx="489.90" cy="459.80" r="1.9" fill="#555"/>
<circle cx="488.90" cy="482.30" r="1.9" fill="#555"/>
<circle cx="469.50" cy="504.70" r="1.9" fill="#555"/>
<line x1="465.80" y1="526.60" x2="465.80" y2="530.40" stroke="#8a8a8a" stroke-width="1"/>
<text x="465.80" y="547.80" font-size="12" text-anchor="middle" font-weight="normal" fill="#111" stroke="#111" stroke-width="0.12">0.1</text>
<line x1="484.58" y1="526.60" x2="484.58" y2="530.40" stroke="#8a8a8a" stroke-width="1"/>
<line x1="503.36" y1="526.60" x2="503.36" y2="530.40" stroke="#8a8a8a" stroke-width="1"/>
<text x="503.36" y="547.80" font-size="12" text-anchor="middle" font-weight="normal" fill="#111" stroke="#111" stroke-width="0.12">0.3</text>
<line x1="522.14" y1="526.60" x2="522.14" y2="530.40" stroke="#8a8a8a" stroke-width="1"/>
<line x1="540.92" y1="526.60" x2="540.92" y2="530.40" stroke="#8a8a8a" stroke-width="1"/>
<text x="540.92" y="547.80" font-size="12" text-anchor="middle" font-weight="normal" fill="#111" stroke="#111" stroke-width="0.12">0.5</text>
<line x1="559.70" y1="526.60" x2="559.70" y2="530.40" stroke="#8a8a8a" stroke-width="1"/>
<line x1="578.48" y1="526.60" x2="578.48" y2="530.40" stroke="#8a8a8a" stroke-width="1"/>
<text x="578.48" y="547.80" font-size="12" text-anchor="middle" font-weight="normal" fill="#111" stroke="#111" stroke-width="0.12">0.7</text>
<rect x="599.10" y="411.95" width="5.60" height="5.70" fill="#f1e9c0" stroke="#333" stroke-width="0.7"/>
<rect x="605.65" y="411.95" width="5.60" height="5.70" fill="#a50026" stroke="#333" stroke-width="0.7"/>
<rect x="612.20" y="411.95" width="5.60" height="5.70" fill="#313695" stroke="#333" stroke-width="0.7"/>
<rect x="599.10" y="434.55" width="5.60" height="5.70" fill="#f1e9c0" stroke="#333" stroke-width="0.7"/>
<rect x="605.65" y="434.55" width="5.60" height="5.70" fill="#a50026" stroke="#333" stroke-width="0.7"/>
<rect x="612.20" y="434.55" width="5.60" height="5.70" fill="#313695" stroke="#333" stroke-width="0.7"/>
<rect x="599.10" y="456.95" width="5.60" height="5.70" fill="#f1e9c0" stroke="#333" stroke-width="0.7"/>
<rect x="605.65" y="456.95" width="5.60" height="5.70" fill="#313695" stroke="#333" stroke-width="0.7"/>
<rect x="612.20" y="456.95" width="5.60" height="5.70" fill="#a50026" stroke="#333" stroke-width="0.7"/>
<rect x="599.10" y="479.45" width="5.60" height="5.70" fill="#313695" stroke="#333" stroke-width="0.7"/>
<rect x="605.65" y="479.45" width="5.60" height="5.70" fill="#f1e9c0" stroke="#333" stroke-width="0.7"/>
<rect x="612.20" y="479.45" width="5.60" height="5.70" fill="#a50026" stroke="#333" stroke-width="0.7"/>
<rect x="599.10" y="501.85" width="5.60" height="5.70" fill="#f1e9c0" stroke="#333" stroke-width="0.7"/>
<rect x="605.65" y="501.85" width="5.60" height="5.70" fill="#313695" stroke="#333" stroke-width="0.7"/>
<rect x="612.20" y="501.85" width="5.60" height="5.70" fill="#a50026" stroke="#333" stroke-width="0.7"/>
<text x="601.60" y="406.70" font-size="8.3" text-anchor="start" font-weight="bold" fill="#4f9a2a" transform="rotate(-63 601.6 406.7)">MASLD</text>
<text x="613.90" y="405.70" font-size="8.3" text-anchor="start" font-weight="bold" fill="#d6bb00" transform="rotate(-63 613.9 405.7)">NO MASLD</text>
<text x="625.10" y="405.70" font-size="8.3" text-anchor="start" font-weight="bold" fill="#7b2ee6" transform="rotate(-63 625.1 405.7)">RISK MASLD</text>
<rect x="628.2" y="435.1" width="4.2" height="49" fill="url(#rdylbu)"/>
<text x="630.30" y="433.30" font-size="5" text-anchor="middle" font-weight="normal" fill="#333">High</text>
<text x="630.30" y="489.80" font-size="5" text-anchor="middle" font-weight="normal" fill="#333">Low</text>
<text x="530.50" y="568.80" font-size="14.5" text-anchor="middle" font-weight="normal" fill="#000" stroke="#000" stroke-width="0.22">Loading 2</text>
<line x1="462.50" y1="599.40" x2="591.50" y2="599.40" stroke="#e2e2e2" stroke-width="1"/>
<line x1="462.50" y1="621.40" x2="591.50" y2="621.40" stroke="#e2e2e2" stroke-width="1"/>
<line x1="462.50" y1="644.40" x2="591.50" y2="644.40" stroke="#e2e2e2" stroke-width="1"/>
<line x1="462.50" y1="667.10" x2="591.50" y2="667.10" stroke="#e2e2e2" stroke-width="1"/>
<line x1="462.50" y1="689.40" x2="591.50" y2="689.40" stroke="#e2e2e2" stroke-width="1"/>
<line x1="462.50" y1="576.70" x2="591.50" y2="576.70" stroke="#666" stroke-width="1"/>
<line x1="462.50" y1="576.70" x2="462.50" y2="711.70" stroke="#8a8a8a" stroke-width="1.1"/>
<line x1="462.50" y1="711.70" x2="591.50" y2="711.70" stroke="#8a8a8a" stroke-width="1.1"/>
<line x1="591.50" y1="576.70" x2="591.50" y2="711.70" stroke="#b5b5b5" stroke-width="1.2"/>
<text x="455.60" y="603.50" font-size="12" text-anchor="end" font-weight="bold" fill="#111" stroke="#111" stroke-width="0.12">UDCA</text>
<text x="455.60" y="624.10" font-size="12" text-anchor="end" font-weight="normal" fill="#111" stroke="#111" stroke-width="0.12">TCDCA</text>
<text x="455.60" y="648.40" font-size="12" text-anchor="end" font-weight="normal" fill="#111" stroke="#111" stroke-width="0.12">CA</text>
<text x="453.90" y="670.60" font-size="12" text-anchor="end" font-weight="normal" fill="#111" stroke="#111" stroke-width="0.12">TDCA</text>
<text x="455.60" y="687.80" font-size="12" text-anchor="end" font-weight="normal" fill="#111" stroke="#111" stroke-width="0.12">GCDCA</text>
<circle cx="586.60" cy="599.40" r="1.9" fill="#555"/>
<circle cx="529.20" cy="621.40" r="1.9" fill="#555"/>
<circle cx="488.90" cy="644.40" r="1.9" fill="#555"/>
<circle cx="482.40" cy="667.10" r="1.9" fill="#555"/>
<circle cx="466.80" cy="689.40" r="1.9" fill="#555"/>
<line x1="465.80" y1="711.70" x2="465.80" y2="715.50" stroke="#8a8a8a" stroke-width="1"/>
<text x="465.80" y="731.50" font-size="12" text-anchor="middle" font-weight="normal" fill="#111" stroke="#111" stroke-width="0.12">0.1</text>
<line x1="482.70" y1="711.70" x2="482.70" y2="715.50" stroke="#8a8a8a" stroke-width="1"/>
<line x1="499.60" y1="711.70" x2="499.60" y2="715.50" stroke="#8a8a8a" stroke-width="1"/>
<text x="499.60" y="731.50" font-size="12" text-anchor="middle" font-weight="normal" fill="#111" stroke="#111" stroke-width="0.12">0.3</text>
<line x1="516.50" y1="711.70" x2="516.50" y2="715.50" stroke="#8a8a8a" stroke-width="1"/>
<line x1="533.40" y1="711.70" x2="533.40" y2="715.50" stroke="#8a8a8a" stroke-width="1"/>
<text x="533.40" y="731.50" font-size="12" text-anchor="middle" font-weight="normal" fill="#111" stroke="#111" stroke-width="0.12">0.5</text>
<line x1="550.30" y1="711.70" x2="550.30" y2="715.50" stroke="#8a8a8a" stroke-width="1"/>
<line x1="567.20" y1="711.70" x2="567.20" y2="715.50" stroke="#8a8a8a" stroke-width="1"/>
<text x="567.20" y="731.50" font-size="12" text-anchor="middle" font-weight="normal" fill="#111" stroke="#111" stroke-width="0.12">0.7</text>
<line x1="584.10" y1="711.70" x2="584.10" y2="715.50" stroke="#8a8a8a" stroke-width="1"/>
<rect x="597.00" y="596.55" width="5.60" height="5.70" fill="#a50026" stroke="#333" stroke-width="0.7"/>
<rect x="603.50" y="596.55" width="5.60" height="5.70" fill="#f1e9c0" stroke="#333" stroke-width="0.7"/>
<rect x="610.00" y="596.55" width="5.60" height="5.70" fill="#313695" stroke="#333" stroke-width="0.7"/>
<rect x="597.00" y="618.55" width="5.60" height="5.70" fill="#313695" stroke="#333" stroke-width="0.7"/>
<rect x="603.50" y="618.55" width="5.60" height="5.70" fill="#f1e9c0" stroke="#333" stroke-width="0.7"/>
<rect x="610.00" y="618.55" width="5.60" height="5.70" fill="#a50026" stroke="#333" stroke-width="0.7"/>
<rect x="597.00" y="641.55" width="5.60" height="5.70" fill="#f1e9c0" stroke="#333" stroke-width="0.7"/>
<rect x="603.50" y="641.55" width="5.60" height="5.70" fill="#a50026" stroke="#333" stroke-width="0.7"/>
<rect x="610.00" y="641.55" width="5.60" height="5.70" fill="#313695" stroke="#333" stroke-width="0.7"/>
<rect x="597.00" y="664.25" width="5.60" height="5.70" fill="#f1e9c0" stroke="#333" stroke-width="0.7"/>
<rect x="603.50" y="664.25" width="5.60" height="5.70" fill="#313695" stroke="#333" stroke-width="0.7"/>
<rect x="610.00" y="664.25" width="5.60" height="5.70" fill="#a50026" stroke="#333" stroke-width="0.7"/>
<rect x="597.00" y="686.55" width="5.60" height="5.70" fill="#313695" stroke="#333" stroke-width="0.7"/>
<rect x="603.50" y="686.55" width="5.60" height="5.70" fill="#a50026" stroke="#333" stroke-width="0.7"/>
<rect x="610.00" y="686.55" width="5.60" height="5.70" fill="#f1e9c0" stroke="#333" stroke-width="0.7"/>
<text x="598.50" y="594.00" font-size="8.3" text-anchor="start" font-weight="bold" fill="#4f9a2a" transform="rotate(-63 598.5 594.0)">MASLD</text>
<text x="610.70" y="592.50" font-size="8.3" text-anchor="start" font-weight="bold" fill="#d6bb00" transform="rotate(-63 610.7 592.5)">NO MASLD</text>
<text x="622.30" y="592.90" font-size="8.3" text-anchor="start" font-weight="bold" fill="#7b2ee6" transform="rotate(-63 622.3 592.9)">RISK MASLD</text>
<rect x="626.3" y="620" width="3.9" height="48.6" fill="url(#rdylbu)"/>
<text x="628.20" y="617.50" font-size="5" text-anchor="middle" font-weight="normal" fill="#333">High</text>
<text x="628.20" y="674.20" font-size="5" text-anchor="middle" font-weight="normal" fill="#333">Low</text>
<text x="-1.80" y="776.60" font-size="23" text-anchor="start" font-weight="normal" fill="#000" stroke="#000" stroke-width="0.30">e</text>
<line x1="55.60" y1="823.60" x2="55.60" y2="1022.60" stroke="#111" stroke-width="1.3"/>
<line x1="55.00" y1="1022.20" x2="262.00" y2="1022.20" stroke="#111" stroke-width="1.3"/>
<line x1="48.40" y1="1021.90" x2="55.60" y2="1021.90" stroke="#111" stroke-width="1.3"/>
<text x="45.60" y="1026.50" font-size="12.8" text-anchor="end" font-weight="normal" fill="#111" stroke="#111" stroke-width="0.15">0</text>
<line x1="48.40" y1="972.60" x2="55.60" y2="972.60" stroke="#111" stroke-width="1.3"/>
<text x="45.60" y="977.20" font-size="12.8" text-anchor="end" font-weight="normal" fill="#111" stroke="#111" stroke-width="0.15">5</text>
<line x1="48.40" y1="923.30" x2="55.60" y2="923.30" stroke="#111" stroke-width="1.3"/>
<text x="45.60" y="927.90" font-size="12.8" text-anchor="end" font-weight="normal" fill="#111" stroke="#111" stroke-width="0.15">10</text>
<line x1="48.40" y1="874.00" x2="55.60" y2="874.00" stroke="#111" stroke-width="1.3"/>
<text x="45.60" y="878.60" font-size="12.8" text-anchor="end" font-weight="normal" fill="#111" stroke="#111" stroke-width="0.15">15</text>
<line x1="48.40" y1="824.70" x2="55.60" y2="824.70" stroke="#111" stroke-width="1.3"/>
<text x="45.60" y="829.30" font-size="12.8" text-anchor="end" font-weight="normal" fill="#111" stroke="#111" stroke-width="0.15">20</text>
<text x="21.60" y="922.80" font-size="14.9" text-anchor="middle" font-weight="normal" fill="#111" stroke="#111" stroke-width="0.24" transform="rotate(-90 21.6 922.8)">Relative abundance</text>
<line x1="108.70" y1="825.00" x2="108.70" y2="1022.00" stroke="#222" stroke-width="1.2" stroke-dasharray="1.7,1.6"/>
<line x1="108.70" y1="1022.00" x2="108.70" y2="1025.00" stroke="#333" stroke-width="1"/>
<line x1="158.50" y1="825.00" x2="158.50" y2="1022.00" stroke="#222" stroke-width="1.2" stroke-dasharray="1.7,1.6"/>
<line x1="158.50" y1="1022.00" x2="158.50" y2="1025.00" stroke="#333" stroke-width="1"/>
<line x1="208.50" y1="825.00" x2="208.50" y2="1022.00" stroke="#222" stroke-width="1.2" stroke-dasharray="1.7,1.6"/>
<line x1="208.50" y1="1022.00" x2="208.50" y2="1025.00" stroke="#333" stroke-width="1"/>
<line x1="66.80" y1="1004.50" x2="66.80" y2="1006.10" stroke="#555" stroke-width="1"/>
<line x1="66.80" y1="1013.70" x2="66.80" y2="1016.50" stroke="#555" stroke-width="1"/>
<rect x="61.20" y="1006.10" width="11.20" height="7.60" fill="#41901f" stroke="#222" stroke-width="0.9"/>
<line x1="61.20" y1="1010.00" x2="72.40" y2="1010.00" stroke="#111" stroke-width="1"/>
<circle cx="63.00" cy="1008.00" r="2.0" fill="none" stroke="#111" stroke-width="0.7"/>
<circle cx="66.00" cy="1009.50" r="2.0" fill="none" stroke="#111" stroke-width="0.7"/>
<circle cx="70.00" cy="1007.50" r="2.0" fill="none" stroke="#111" stroke-width="0.7"/>
<circle cx="64.00" cy="1012.00" r="2.0" fill="none" stroke="#111" stroke-width="0.7"/>
<circle cx="69.00" cy="1011.00" r="2.0" fill="none" stroke="#111" stroke-width="0.7"/>
<circle cx="63.50" cy="1017.00" r="2.0" fill="none" stroke="#111" stroke-width="0.7"/>
<circle cx="67.50" cy="1018.50" r="2.0" fill="none" stroke="#111" stroke-width="0.7"/>
<circle cx="70.50" cy="1016.50" r="2.0" fill="none" stroke="#111" stroke-width="0.7"/>
<circle cx="66.50" cy="1004.50" r="2.0" fill="none" stroke="#111" stroke-width="0.7"/>
<circle cx="70.00" cy="1003.50" r="2.0" fill="none" stroke="#111" stroke-width="0.7"/>
<circle cx="66.80" cy="1004.50" r="2.0" fill="#fff" stroke="#111" stroke-width="0.7"/>
<line x1="64.50" y1="1004.50" x2="69.10" y2="1004.50" stroke="#111" stroke-width="0.8"/>
<circle cx="66.80" cy="1016.50" r="2.0" fill="#fff" stroke="#111" stroke-width="0.7"/>
<line x1="64.50" y1="1016.50" x2="69.10" y2="1016.50" stroke="#111" stroke-width="0.8"/>
<line x1="83.45" y1="991.60" x2="83.45" y2="1007.70" stroke="#555" stroke-width="1"/>
<rect x="78.20" y="1007.70" width="10.50" height="9.60" fill="#7a0ff0" stroke="#222" stroke-width="0.9"/>
<line x1="78.20" y1="1014.00" x2="88.70" y2="1014.00" stroke="#111" stroke-width="1"/>
<circle cx="81.00" cy="1013.00" r="2.0" fill="none" stroke="#111" stroke-width="0.7"/>
<circle cx="86.00" cy="1015.00" r="2.0" fill="none" stroke="#111" stroke-width="0.7"/>
<circle cx="80.50" cy="1018.00" r="2.0" fill="none" stroke="#111" stroke-width="0.7"/>
<circle cx="85.00" cy="1018.50" r="2.0" fill="none" stroke="#111" stroke-width="0.7"/>
<circle cx="83.45" cy="991.60" r="2.0" fill="#fff" stroke="#111" stroke-width="0.7"/>
<line x1="81.15" y1="991.60" x2="85.75" y2="991.60" stroke="#111" stroke-width="0.8"/>
<line x1="100.30" y1="1010.50" x2="100.30" y2="1012.10" stroke="#555" stroke-width="1"/>
<rect x="94.70" y="1012.10" width="11.20" height="8.10" fill="#f1b22f" stroke="#222" stroke-width="0.9"/>
<line x1="94.70" y1="1016.00" x2="105.90" y2="1016.00" stroke="#111" stroke-width="1"/>
<circle cx="96.50" cy="1010.50" r="2.0" fill="none" stroke="#111" stroke-width="0.7"/>
<circle cx="101.00" cy="1011.00" r="2.0" fill="none" stroke="#111" stroke-width="0.7"/>
<circle cx="104.50" cy="1010.00" r="2.0" fill="none" stroke="#111" stroke-width="0.7"/>
<circle cx="97.00" cy="1014.50" r="2.0" fill="none" stroke="#111" stroke-width="0.7"/>
<circle cx="101.50" cy="1015.50" r="2.0" fill="none" stroke="#111" stroke-width="0.7"/>
<circle cx="104.50" cy="1014.50" r="2.0" fill="none" stroke="#111" stroke-width="0.7"/>
<circle cx="97.50" cy="1018.50" r="2.0" fill="none" stroke="#111" stroke-width="0.7"/>
<circle cx="101.00" cy="1019.00" r="2.0" fill="none" stroke="#111" stroke-width="0.7"/>
<circle cx="104.00" cy="1018.00" r="2.0" fill="none" stroke="#111" stroke-width="0.7"/>
<circle cx="100.30" cy="1010.50" r="2.0" fill="#fff" stroke="#111" stroke-width="0.7"/>
<line x1="98.00" y1="1010.50" x2="102.60" y2="1010.50" stroke="#111" stroke-width="0.8"/>
<line x1="117.10" y1="908.70" x2="117.10" y2="948.30" stroke="#555" stroke-width="1"/>
<line x1="117.10" y1="989.20" x2="117.10" y2="999.70" stroke="#555" stroke-width="1"/>
<rect x="111.40" y="948.30" width="11.40" height="40.90" fill="#41901f" stroke="#222" stroke-width="0.9"/>
<line x1="111.40" y1="975.50" x2="122.80" y2="975.50" stroke="#111" stroke-width="1"/>
<circle cx="117.00" cy="923.80" r="2.0" fill="none" stroke="#111" stroke-width="0.7"/>
<circle cx="117.00" cy="956.20" r="2.0" fill="none" stroke="#111" stroke-width="0.7"/>
<circle cx="117.00" cy="966.30" r="2.0" fill="none" stroke="#111" stroke-width="0.7"/>
<circle cx="115.00" cy="975.50" r="2.0" fill="none" stroke="#111" stroke-width="0.7"/>
<circle cx="118.90" cy="975.50" r="2.0" fill="none" stroke="#111" stroke-width="0.7"/>
<circle cx="113.40" cy="985.80" r="2.0" fill="none" stroke="#111" stroke-width="0.7"/>
<circle cx="117.30" cy="989.20" r="2.0" fill="none" stroke="#111" stroke-width="0.7"/>
<circle cx="120.50" cy="988.40" r="2.0" fill="none" stroke="#111" stroke-width="0.7"/>
<circle cx="117.10" cy="908.70" r="2.0" fill="#fff" stroke="#111" stroke-width="0.7"/>
<line x1="114.80" y1="908.70" x2="119.40" y2="908.70" stroke="#111" stroke-width="0.8"/>
<circle cx="117.10" cy="999.70" r="2.0" fill="#fff" stroke="#111" stroke-width="0.7"/>
<line x1="114.80" y1="999.70" x2="119.40" y2="999.70" stroke="#111" stroke-width="0.8"/>
<line x1="133.65" y1="866.50" x2="133.65" y2="943.30" stroke="#555" stroke-width="1"/>
<rect x="128.20" y="943.30" width="10.90" height="60.70" fill="#7a0ff0" stroke="#222" stroke-width="0.9"/>
<line x1="128.20" y1="996.20" x2="139.10" y2="996.20" stroke="#111" stroke-width="1"/>
<circle cx="133.40" cy="968.50" r="2.0" fill="none" stroke="#111" stroke-width="0.7"/>
<circle cx="130.30" cy="997.00" r="2.0" fill="none" stroke="#111" stroke-width="0.7"/>
<circle cx="136.80" cy="994.80" r="2.0" fill="none" stroke="#111" stroke-width="0.7"/>
<circle cx="129.80" cy="1006.00" r="2.0" fill="none" stroke="#111" stroke-width="0.7"/>
<circle cx="132.90" cy="1005.60" r="2.0" fill="none" stroke="#111" stroke-width="0.7"/>
<circle cx="136.00" cy="1004.80" r="2.0" fill="none" stroke="#111" stroke-width="0.7"/>
<circle cx="133.65" cy="866.50" r="2.0" fill="#fff" stroke="#111" stroke-width="0.7"/>
<line x1="131.35" y1="866.50" x2="135.95" y2="866.50" stroke="#111" stroke-width="0.8"/>
<line x1="150.05" y1="942.00" x2="150.05" y2="972.40" stroke="#555" stroke-width="1"/>
<line x1="150.05" y1="1001.70" x2="150.05" y2="1008.70" stroke="#555" stroke-width="1"/>
<rect x="144.60" y="972.40" width="10.90" height="29.30" fill="#f1b22f" stroke="#222" stroke-width="0.9"/>
<line x1="144.60" y1="995.50" x2="155.50" y2="995.50" stroke="#111" stroke-width="1"/>
<circle cx="150.00" cy="959.60" r="2.0" fill="none" stroke="#111" stroke-width="0.7"/>
<circle cx="150.00" cy="969.90" r="2.0" fill="none" stroke="#111" stroke-width="0.7"/>
<circle cx="150.00" cy="975.50" r="2.0" fill="none" stroke="#111" stroke-width="0.7"/>
<circle cx="148.80" cy="993.60" r="2.0" fill="none" stroke="#111" stroke-width="0.7"/>
<circle cx="153.50" cy="992.30" r="2.0" fill="none" stroke="#111" stroke-width="0.7"/>
<circle cx="148.80" cy="998.60" r="2.0" fill="none" stroke="#111" stroke-width="0.7"/>
<circle cx="153.10" cy="998.60" r="2.0" fill="none" stroke="#111" stroke-width="0.7"/>
<circle cx="149.30" cy="1007.10" r="2.0" fill="none" stroke="#111" stroke-width="0.7"/>
<circle cx="151.60" cy="1006.40" r="2.0" fill="none" stroke="#111" stroke-width="0.7"/>
<circle cx="150.05" cy="942.00" r="2.0" fill="#fff" stroke="#111" stroke-width="0.7"/>
<line x1="147.75" y1="942.00" x2="152.35" y2="942.00" stroke="#111" stroke-width="0.8"/>
<circle cx="150.05" cy="1008.70" r="2.0" fill="#fff" stroke="#111" stroke-width="0.7"/>
<line x1="147.75" y1="1008.70" x2="152.35" y2="1008.70" stroke="#111" stroke-width="0.8"/>
<line x1="167.20" y1="965.50" x2="167.20" y2="980.20" stroke="#555" stroke-width="1"/>
<rect x="161.40" y="980.20" width="11.60" height="20.50" fill="#41901f" stroke="#222" stroke-width="0.9"/>
<line x1="161.40" y1="995.60" x2="173.00" y2="995.60" stroke="#111" stroke-width="1"/>
<circle cx="166.80" cy="972.90" r="2.0" fill="none" stroke="#111" stroke-width="0.7"/>
<circle cx="166.80" cy="982.70" r="2.0" fill="none" stroke="#111" stroke-width="0.7"/>
<circle cx="166.80" cy="991.90" r="2.0" fill="none" stroke="#111" stroke-width="0.7"/>
<circle cx="170.30" cy="991.90" r="2.0" fill="none" stroke="#111" stroke-width="0.7"/>
<circle cx="166.60" cy="996.80" r="2.0" fill="none" stroke="#111" stroke-width="0.7"/>
<circle cx="170.30" cy="996.80" r="2.0" fill="none" stroke="#111" stroke-width="0.7"/>
<circle cx="163.50" cy="999.50" r="2.0" fill="none" stroke="#111" stroke-width="0.7"/>
<circle cx="162.90" cy="1006.00" r="2.0" fill="none" stroke="#111" stroke-width="0.7"/>
<circle cx="167.20" cy="1003.00" r="2.0" fill="none" stroke="#111" stroke-width="0.7"/>
<circle cx="170.90" cy="1003.50" r="2.0" fill="none" stroke="#111" stroke-width="0.7"/>
<circle cx="167.20" cy="965.50" r="2.0" fill="#fff" stroke="#111" stroke-width="0.7"/>
<line x1="164.90" y1="965.50" x2="169.50" y2="965.50" stroke="#111" stroke-width="0.8"/>
<line x1="183.45" y1="956.30" x2="183.45" y2="983.90" stroke="#555" stroke-width="1"/>
<rect x="178.20" y="983.90" width="10.50" height="27.00" fill="#7a0ff0" stroke="#222" stroke-width="0.9"/>
<line x1="178.20" y1="1009.70" x2="188.70" y2="1009.70" stroke="#111" stroke-width="1"/>
<circle cx="183.50" cy="992.70" r="2.0" fill="none" stroke="#111" stroke-width="0.7"/>
<circle cx="182.50" cy="1008.40" r="2.0" fill="none" stroke="#111" stroke-width="0.7"/>
<circle cx="187.40" cy="1009.70" r="2.0" fill="none" stroke="#111" stroke-width="0.7"/>
<circle cx="180.10" cy="1013.00" r="2.0" fill="none" stroke="#111" stroke-width="0.7"/>
<circle cx="183.45" cy="956.30" r="2.0" fill="#fff" stroke="#111" stroke-width="0.7"/>
<line x1="181.15" y1="956.30" x2="185.75" y2="956.30" stroke="#111" stroke-width="0.8"/>
<line x1="200.40" y1="904.80" x2="200.40" y2="999.20" stroke="#555" stroke-width="1"/>
<rect x="195.00" y="999.20" width="10.80" height="13.50" fill="#f1b22f" stroke="#222" stroke-width="0.9"/>
<line x1="195.00" y1="1008.40" x2="205.80" y2="1008.40" stroke="#111" stroke-width="1"/>
<circle cx="199.50" cy="994.10" r="2.0" fill="none" stroke="#111" stroke-width="0.7"/>
<circle cx="201.50" cy="996.80" r="2.0" fill="none" stroke="#111" stroke-width="0.7"/>
<circle cx="199.10" cy="1002.30" r="2.0" fill="none" stroke="#111" stroke-width="0.7"/>
<circle cx="201.50" cy="1001.70" r="2.0" fill="none" stroke="#111" stroke-width="0.7"/>
<circle cx="197.20" cy="1007.80" r="2.0" fill="none" stroke="#111" stroke-width="0.7"/>
<circle cx="203.40" cy="1006.60" r="2.0" fill="none" stroke="#111" stroke-width="0.7"/>
<circle cx="198.50" cy="1016.40" r="2.0" fill="none" stroke="#111" stroke-width="0.7"/>
<circle cx="203.40" cy="1013.30" r="2.0" fill="none" stroke="#111" stroke-width="0.7"/>
<circle cx="200.40" cy="904.80" r="2.0" fill="#fff" stroke="#111" stroke-width="0.7"/>
<line x1="198.10" y1="904.80" x2="202.70" y2="904.80" stroke="#111" stroke-width="0.8"/>
<rect x="211.50" y="1010.10" width="11.30" height="5.90" fill="#41901f" stroke="#222" stroke-width="0.9"/>
<line x1="211.50" y1="1013.00" x2="222.80" y2="1013.00" stroke="#111" stroke-width="1"/>
<circle cx="213.50" cy="1009.00" r="2.0" fill="none" stroke="#111" stroke-width="0.7"/>
<circle cx="217.00" cy="1008.50" r="2.0" fill="none" stroke="#111" stroke-width="0.7"/>
<circle cx="221.00" cy="1009.00" r="2.0" fill="none" stroke="#111" stroke-width="0.7"/>
<circle cx="214.00" cy="1013.00" r="2.0" fill="none" stroke="#111" stroke-width="0.7"/>
<circle cx="219.00" cy="1012.50" r="2.0" fill="none" stroke="#111" stroke-width="0.7"/>
<circle cx="213.50" cy="1017.00" r="2.0" fill="none" stroke="#111" stroke-width="0.7"/>
<circle cx="218.50" cy="1018.00" r="2.0" fill="none" stroke="#111" stroke-width="0.7"/>
<circle cx="221.50" cy="1016.50" r="2.0" fill="none" stroke="#111" stroke-width="0.7"/>
<line x1="233.90" y1="1002.50" x2="233.90" y2="1012.70" stroke="#555" stroke-width="1"/>
<rect x="228.30" y="1012.70" width="11.20" height="3.30" fill="#7a0ff0" stroke="#222" stroke-width="0.9"/>
<line x1="228.30" y1="1015.00" x2="239.50" y2="1015.00" stroke="#111" stroke-width="1"/>
<circle cx="230.50" cy="1016.50" r="2.0" fill="none" stroke="#111" stroke-width="0.7"/>
<circle cx="236.00" cy="1017.00" r="2.0" fill="none" stroke="#111" stroke-width="0.7"/>
<circle cx="233.90" cy="1002.50" r="2.0" fill="#fff" stroke="#111" stroke-width="0.7"/>
<line x1="231.60" y1="1002.50" x2="236.20" y2="1002.50" stroke="#111" stroke-width="0.8"/>
<line x1="250.35" y1="1010.50" x2="250.35" y2="1015.20" stroke="#555" stroke-width="1"/>
<rect x="245.00" y="1015.20" width="10.70" height="2.80" fill="#f1b22f" stroke="#222" stroke-width="0.9"/>
<line x1="245.00" y1="1016.50" x2="255.70" y2="1016.50" stroke="#111" stroke-width="1"/>
<circle cx="248.00" cy="1013.00" r="2.0" fill="none" stroke="#111" stroke-width="0.7"/>
<circle cx="251.00" cy="1012.00" r="2.0" fill="none" stroke="#111" stroke-width="0.7"/>
<circle cx="248.00" cy="1018.50" r="2.0" fill="none" stroke="#111" stroke-width="0.7"/>
<circle cx="252.50" cy="1019.00" r="2.0" fill="none" stroke="#111" stroke-width="0.7"/>
<circle cx="250.00" cy="1015.50" r="2.0" fill="none" stroke="#111" stroke-width="0.7"/>
<circle cx="250.35" cy="1010.50" r="2.0" fill="#fff" stroke="#111" stroke-width="0.7"/>
<line x1="248.05" y1="1010.50" x2="252.65" y2="1010.50" stroke="#111" stroke-width="0.8"/>
<rect x="64.50" y="962.45" width="34.50" height="2.10" fill="#000" stroke="none" stroke-width="1"/>
<text x="64.50" y="959.80" font-size="9.7" text-anchor="start" font-weight="normal" fill="#1a1a1a" stroke="#1a1a1a" stroke-width="0.03">p=0.027</text>
<rect x="82.50" y="982.85" width="19.00" height="2.10" fill="#000" stroke="none" stroke-width="1"/>
<text x="72.00" y="979.80" font-size="9.7" text-anchor="start" font-weight="normal" fill="#1a1a1a" stroke="#1a1a1a" stroke-width="0.03">p=0.047</text>
<rect x="116.10" y="838.95" width="34.80" height="2.10" fill="#000" stroke="none" stroke-width="1"/>
<text x="116.70" y="836.80" font-size="9.7" text-anchor="start" font-weight="normal" fill="#1a1a1a" stroke="#1a1a1a" stroke-width="0.03">p=0.041</text>
<rect x="134.20" y="859.35" width="18.90" height="2.10" fill="#000" stroke="none" stroke-width="1"/>
<text x="121.80" y="856.90" font-size="9.7" text-anchor="start" font-weight="normal" fill="#1a1a1a" stroke="#1a1a1a" stroke-width="0.03">p=0.037</text>
<rect x="164.50" y="877.75" width="34.70" height="2.10" fill="#000" stroke="none" stroke-width="1"/>
<text x="166.00" y="873.40" font-size="9.7" text-anchor="start" font-weight="normal" fill="#1a1a1a" stroke="#1a1a1a" stroke-width="0.03">p=0.014</text>
<rect x="182.50" y="898.45" width="19.00" height="2.10" fill="#000" stroke="none" stroke-width="1"/>
<text x="167.40" y="895.40" font-size="9.7" text-anchor="start" font-weight="normal" fill="#1a1a1a" stroke="#1a1a1a" stroke-width="0.03">p=0.011</text>
<rect x="216.00" y="973.05" width="34.60" height="2.10" fill="#000" stroke="none" stroke-width="1"/>
<text x="216.00" y="970.10" font-size="9.7" text-anchor="start" font-weight="normal" fill="#1a1a1a" stroke="#1a1a1a" stroke-width="0.03">p=0.005</text>
<rect x="234.00" y="993.75" width="18.80" height="2.10" fill="#000" stroke="none" stroke-width="1"/>
<text x="224.60" y="991.30" font-size="9.7" text-anchor="start" font-weight="normal" fill="#1a1a1a" stroke="#1a1a1a" stroke-width="0.03">p=0.013</text>
<rect x="226.10" y="823.90" width="15.80" height="7.80" fill="#41901f" stroke="#444" stroke-width="0.4"/>
<text x="251.70" y="832.00" font-size="12" text-anchor="start" font-weight="normal" fill="#111" stroke="#111" stroke-width="0.12">MASLD</text>
<rect x="226.10" y="840.40" width="15.80" height="7.80" fill="#7a0ff0" stroke="#444" stroke-width="0.4"/>
<text x="251.70" y="848.50" font-size="12" text-anchor="start" font-weight="normal" fill="#111" stroke="#111" stroke-width="0.12">RISK MASLD</text>
<rect x="226.10" y="856.50" width="15.80" height="7.80" fill="#f1b22f" stroke="#444" stroke-width="0.4"/>
<text x="251.70" y="864.60" font-size="12" text-anchor="start" font-weight="normal" fill="#111" stroke="#111" stroke-width="0.12">NO MASLD</text>
<text x="83.20" y="1039.10" font-size="10.6" text-anchor="middle" font-weight="normal" fill="#111" stroke="#111" stroke-width="0.06">DG36:3</text>
<text x="132.60" y="1039.10" font-size="10.6" text-anchor="middle" font-weight="normal" fill="#111" stroke="#111" stroke-width="0.06">TG54:4</text>
<text x="182.00" y="1039.10" font-size="10.6" text-anchor="middle" font-weight="normal" fill="#111" stroke="#111" stroke-width="0.06">TG54:5</text>
<text x="233.70" y="1039.10" font-size="10.6" text-anchor="middle" font-weight="normal" fill="#111" stroke="#111" stroke-width="0.06">TG56:7</text>
<text x="365.50" y="775.90" font-size="22" text-anchor="start" font-weight="normal" fill="#000" stroke="#000" stroke-width="0.30">f</text>
<line x1="428.30" y1="839.20" x2="619.20" y2="839.20" stroke="#e2e2e2" stroke-width="1"/>
<line x1="428.30" y1="879.30" x2="619.20" y2="879.30" stroke="#e2e2e2" stroke-width="1"/>
<line x1="428.30" y1="919.70" x2="619.20" y2="919.70" stroke="#e2e2e2" stroke-width="1"/>
<line x1="428.30" y1="959.30" x2="619.20" y2="959.30" stroke="#e2e2e2" stroke-width="1"/>
<line x1="428.30" y1="799.50" x2="619.20" y2="799.50" stroke="#777" stroke-width="1.1"/>
<line x1="428.30" y1="799.50" x2="428.30" y2="999.00" stroke="#555" stroke-width="1.1"/>
<line x1="428.30" y1="999.00" x2="619.20" y2="999.00" stroke="#777" stroke-width="1.1"/>
<line x1="619.20" y1="799.50" x2="619.20" y2="999.00" stroke="#999" stroke-width="1.2"/>
<text x="374.30" y="844.60" font-size="13" text-anchor="start" font-weight="normal" fill="#111" stroke="#111" stroke-width="0.16">TG56:7</text>
<text x="375.50" y="888.50" font-size="13" text-anchor="start" font-weight="normal" fill="#111" stroke="#111" stroke-width="0.16">TG54:5</text>
<text x="371.50" y="934.80" font-size="13" text-anchor="start" font-weight="normal" fill="#111" stroke="#111" stroke-width="0.16">DG36:3</text>
<text x="371.00" y="978.50" font-size="13" text-anchor="start" font-weight="normal" fill="#111" stroke="#111" stroke-width="0.16">TG54:4</text>
<circle cx="611.80" cy="839.20" r="2.3" fill="#666" stroke="#333" stroke-width="0.6"/>
<circle cx="570.80" cy="879.30" r="2.3" fill="#666" stroke="#333" stroke-width="0.6"/>
<circle cx="490.00" cy="919.70" r="2.3" fill="#666" stroke="#333" stroke-width="0.6"/>
<circle cx="435.10" cy="959.30" r="2.3" fill="#666" stroke="#333" stroke-width="0.6"/>
<line x1="445.10" y1="999.00" x2="445.10" y2="1003.50" stroke="#777" stroke-width="1"/>
<line x1="469.80" y1="999.00" x2="469.80" y2="1003.50" stroke="#777" stroke-width="1"/>
<line x1="494.50" y1="999.00" x2="494.50" y2="1003.50" stroke="#777" stroke-width="1"/>
<line x1="519.20" y1="999.00" x2="519.20" y2="1003.50" stroke="#777" stroke-width="1"/>
<line x1="543.90" y1="999.00" x2="543.90" y2="1003.50" stroke="#777" stroke-width="1"/>
<line x1="568.60" y1="999.00" x2="568.60" y2="1003.50" stroke="#777" stroke-width="1"/>
<line x1="593.30" y1="999.00" x2="593.30" y2="1003.50" stroke="#777" stroke-width="1"/>
<line x1="618.00" y1="999.00" x2="618.00" y2="1003.50" stroke="#777" stroke-width="1"/>
<text x="446.60" y="1022.20" font-size="12" text-anchor="middle" font-weight="normal" fill="#111" stroke="#111" stroke-width="0.12">-0.02</text>
<text x="497.10" y="1022.20" font-size="12" text-anchor="middle" font-weight="normal" fill="#111" stroke="#111" stroke-width="0.12">0.00</text>
<text x="545.90" y="1022.20" font-size="12" text-anchor="middle" font-weight="normal" fill="#111" stroke="#111" stroke-width="0.12">0.02</text>
<text x="596.70" y="1022.20" font-size="12" text-anchor="middle" font-weight="normal" fill="#111" stroke="#111" stroke-width="0.12">0.04</text>
<text x="530.70" y="1057.40" font-size="13.4" text-anchor="middle" font-weight="normal" fill="#111" stroke="#111" stroke-width="0.18">MeanDecreaseAccuracy</text>
<rect x="627.00" y="835.10" width="8.70" height="9.00" fill="#a50026" stroke="#333" stroke-width="0.8"/>
<rect x="636.95" y="835.10" width="8.70" height="9.00" fill="#f1e9c0" stroke="#333" stroke-width="0.8"/>
<rect x="646.90" y="835.10" width="8.70" height="9.00" fill="#313695" stroke="#333" stroke-width="0.8"/>
<rect x="627.00" y="875.20" width="8.70" height="9.00" fill="#a50026" stroke="#333" stroke-width="0.8"/>
<rect x="636.95" y="875.20" width="8.70" height="9.00" fill="#f1e9c0" stroke="#333" stroke-width="0.8"/>
<rect x="646.90" y="875.20" width="8.70" height="9.00" fill="#313695" stroke="#333" stroke-width="0.8"/>
<rect x="627.00" y="915.20" width="8.70" height="9.00" fill="#a50026" stroke="#333" stroke-width="0.8"/>
<rect x="636.95" y="915.20" width="8.70" height="9.00" fill="#f1e9c0" stroke="#333" stroke-width="0.8"/>
<rect x="646.90" y="915.20" width="8.70" height="9.00" fill="#313695" stroke="#333" stroke-width="0.8"/>
<rect x="627.00" y="955.20" width="8.70" height="9.00" fill="#a50026" stroke="#333" stroke-width="0.8"/>
<rect x="636.95" y="955.20" width="8.70" height="9.00" fill="#f1e9c0" stroke="#333" stroke-width="0.8"/>
<rect x="646.90" y="955.20" width="8.70" height="9.00" fill="#313695" stroke="#333" stroke-width="0.8"/>
<text x="626.20" y="827.10" font-size="9.5" text-anchor="start" font-weight="bold" fill="#55b040" stroke="#55b040" stroke-width="0.02" transform="rotate(-51 626.2 827.1)">MASLD</text>
<text x="642.30" y="827.10" font-size="9.5" text-anchor="start" font-weight="bold" fill="#9a20d8" stroke="#9a20d8" stroke-width="0.02" transform="rotate(-51 642.3 827.1)">RISK MASLD</text>
<text x="655.60" y="832.10" font-size="9.5" text-anchor="start" font-weight="bold" fill="#c8b000" stroke="#c8b000" stroke-width="0.02" transform="rotate(-51 655.6 832.1)">NO MASLD</text>
<rect x="669.8" y="863.1" width="6.3" height="72.8" fill="url(#rdylbu)"/>
<text x="672.90" y="860.20" font-size="7" text-anchor="middle" font-weight="normal" fill="#333">High</text>
<text x="672.90" y="944.00" font-size="7" text-anchor="middle" font-weight="normal" fill="#333">Low</text>
</svg></body></html>
